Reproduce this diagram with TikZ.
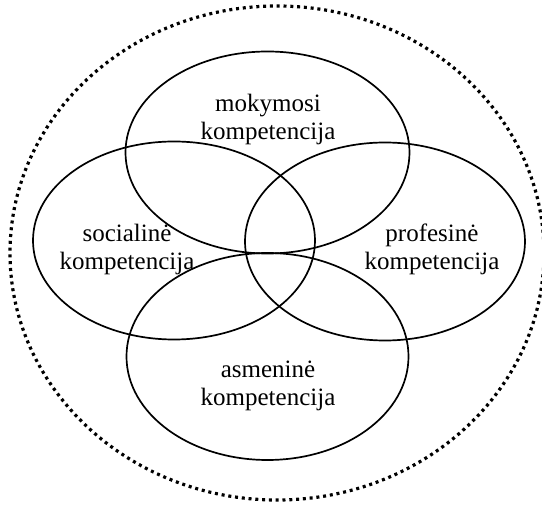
\documentclass[tikz,border=0pt]{standalone}
\usepackage{fontspec}
\setmainfont{Liberation Serif}
\usetikzlibrary{shapes.geometric,positioning}
\tikzset{
        area/.style={
            ellipse, draw, line width=1.7pt,
            inner sep=0pt
        },
        whole/.style={
            ellipse, draw, line width=3.2pt,
            dash pattern=on 3pt off 3.8pt,
            inner sep=0pt
        },
        caption/.style={
            align=center, inner sep=0pt,
            font=\fontsize{25}{28}\selectfont
        }
    }

\begin{document}
\begin{tikzpicture}[x=1pt, y=-1pt]
    \useasboundingbox (0,0) rectangle (542,505);

    % outer dotted boundary
    \node[whole, minimum width=534pt, minimum height=494pt] (all) at (277,253) {};

    % four competences
    \node[area, minimum width=284pt, minimum height=202pt] (learn) at (267.5,152.5) {};
    \node[area, minimum width=282pt, minimum height=198pt] (social) at (174,240.5) {};
    \node[area, minimum width=280pt, minimum height=198pt] (prof) at (385,241.5) {};
    \node[area, minimum width=282pt, minimum height=207pt] (person) at (267.5,356.5) {};

    \node[caption] (learnT) at (268,119) {mokymosi\\kompetencija};
    \node[caption] (socialT) at (127,249) {socialinė\\kompetencija};
    \node[caption] (profT) at (432,249) {profesinė\\kompetencija};
    \node[caption] (personT) at (268,386) {asmeninė\\kompetencija};

\end{tikzpicture}
\end{document}
